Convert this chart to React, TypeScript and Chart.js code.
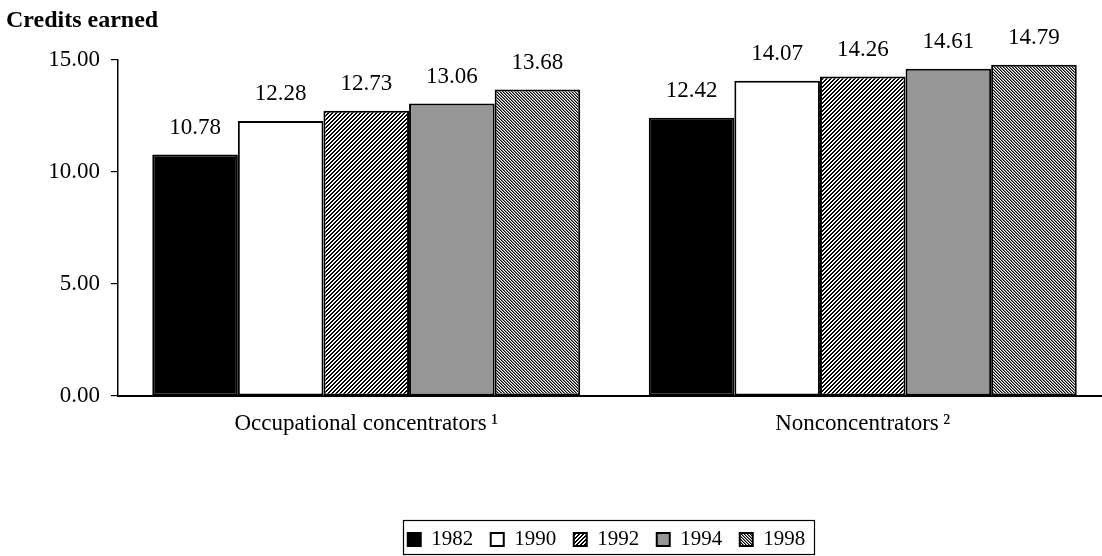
import React, { useEffect, useRef } from "react";
import { Chart, registerables } from "chart.js";

Chart.register(...registerables);

const categories = ["Occupational concentrators\u2009\u00B9", "Nonconcentrators\u2009\u00B2"];
const years = ["1982", "1990", "1992", "1994", "1998"];
const values1982 = [10.78, 12.42];
const values1990 = [12.28, 14.07];
const values1992 = [12.73, 14.26];
const values1994 = [13.06, 14.61];
const values1998 = [13.68, 14.79];
const yTicks = [0, 5, 10, 15];
const chartTitle = "Credits earned";

const FONT = "'Liberation Serif', 'Times New Roman', serif";

function stripePattern(ctx: CanvasRenderingContext2D, shades: number[], dir: "up" | "down") {
  const period = shades.length;
  const c = document.createElement("canvas");
  c.width = period;
  c.height = period;
  const g = c.getContext("2d")!;
  const img = g.createImageData(period, period);
  for (let y = 0; y < period; y++) {
    for (let x = 0; x < period; x++) {
      const k = dir === "up" ? (x + y) % period : (((x - y) % period) + period) % period;
      const v = shades[k];
      const i = (y * period + x) * 4;
      img.data[i] = v;
      img.data[i + 1] = v;
      img.data[i + 2] = v;
      img.data[i + 3] = 255;
    }
  }
  g.putImageData(img, 0, 0);
  return ctx.createPattern(c, "repeat") as CanvasPattern;
}

const dataLabelPlugin = {
  id: "dataLabels",
  afterDatasetsDraw(chart: any) {
    const ctx = chart.ctx;
    ctx.save();
    ctx.font = `23px ${FONT}`;
    ctx.fillStyle = "#000";
    ctx.textAlign = "center";
    ctx.textBaseline = "middle";
    chart.data.datasets.forEach((ds: any, di: number) => {
      const meta = chart.getDatasetMeta(di);
      meta.data.forEach((el: any, i: number) => {
        ctx.fillText(Number(ds.data[i]).toFixed(2), el.x, el.y - 27);
      });
    });
    ctx.restore();
  },
};

const legendShiftPlugin = {
  id: "legendShift",
  afterLayout(chart: any) {
    const lg = chart.legend;
    if (!lg) return;
    lg.left -= 8;
    lg.right -= 8;
  },
};

const legendBorderPlugin = {
  id: "legendBorder",
  afterDraw(chart: any) {
    const lg = chart.legend;
    if (!lg || !lg.legendHitBoxes || !lg.legendHitBoxes.length) return;
    const boxes = lg.legendHitBoxes;
    const left = Math.min(...boxes.map((b: any) => b.left)) - 5;
    const right = Math.max(...boxes.map((b: any) => b.left + b.width)) + 8;
    const cy = boxes[0].top + boxes[0].height / 2;
    const ctx = chart.ctx;
    ctx.save();
    ctx.strokeStyle = "#000";
    ctx.lineWidth = 1.2;
    ctx.strokeRect(Math.round(left) + 0.5, Math.round(cy - 20) + 0.5, Math.round(right - left), 34);
    ctx.restore();
  },
};

export default function App() {
  const canvasRef = useRef<HTMLCanvasElement>(null);

  useEffect(() => {
    const canvas = canvasRef.current!;
    const ctx = canvas.getContext("2d")!;
    const p1992 = stripePattern(ctx, [0, 0, 255, 255], "up");
    const p1998 = stripePattern(ctx, [0, 128, 255], "down");
    const fills: any[] = ["#000000", "#ffffff", p1992, "#969696", p1998];
    const series = [values1982, values1990, values1992, values1994, values1998];

    const chart = new Chart(canvas, {
      type: "bar",
      data: {
        labels: categories,
        datasets: years.map((y, i) => ({
          label: y,
          data: series[i],
          backgroundColor: fills[i],
          borderColor: "#000",
          borderWidth: 2,
          borderSkipped: false,
          categoryPercentage: 0.862,
          barPercentage: 1,
        })),
      },
      options: {
        responsive: false,
        animation: false,
        devicePixelRatio: 1,
        layout: { padding: { left: 6, right: 1, top: 0, bottom: 0 } },
        plugins: {
          title: {
            display: true,
            text: chartTitle,
            align: "start",
            color: "#000",
            font: { family: FONT, size: 24, weight: "bold" },
            padding: { top: 6, bottom: 25.2 },
          },
          legend: {
            display: true,
            position: "bottom",
            fullSize: false,
            labels: {
              color: "#000",
              font: { family: FONT, size: 21 },
              boxWidth: 13,
              boxHeight: 13,
              padding: 17.5,
            },
          },
          tooltip: { enabled: false },
        },
        scales: {
          x: {
            grid: { display: false, drawTicks: false },
            border: { display: true, color: "#000", width: 2 },
            ticks: {
              color: "#000",
              font: { family: FONT, size: 23 },
              padding: 14,
              maxRotation: 0,
            },
            afterFit: (scale: any) => {
              scale.height = 115.5;
            },
          },
          y: {
            min: 0,
            max: 15,
            grid: {
              display: true,
              drawOnChartArea: false,
              drawTicks: true,
              tickLength: 7,
              color: "#000",
              lineWidth: 1.2,
            },
            border: { display: true, color: "#000", width: 1.5 },
            ticks: {
              color: "#000",
              font: { family: FONT, size: 23 },
              padding: 11,
              callback: (v: any) => Number(v).toFixed(2),
            },
            afterBuildTicks: (scale: any) => {
              scale.ticks = yTicks.map((v) => ({ value: v }));
            },
            afterFit: (scale: any) => {
              scale.width = 112;
            },
          },
        },
      },
      plugins: [dataLabelPlugin, legendShiftPlugin, legendBorderPlugin],
    });
    return () => chart.destroy();
  }, []);

  return (
    <div
      style={{
        position: "fixed",
        left: 0,
        top: 0,
        width: 1102,
        height: 556,
        overflow: "hidden",
        background: "#fff",
      }}
    >
      <canvas ref={canvasRef} width={1112} height={560} style={{ display: "block" }} />
    </div>
  );
}
